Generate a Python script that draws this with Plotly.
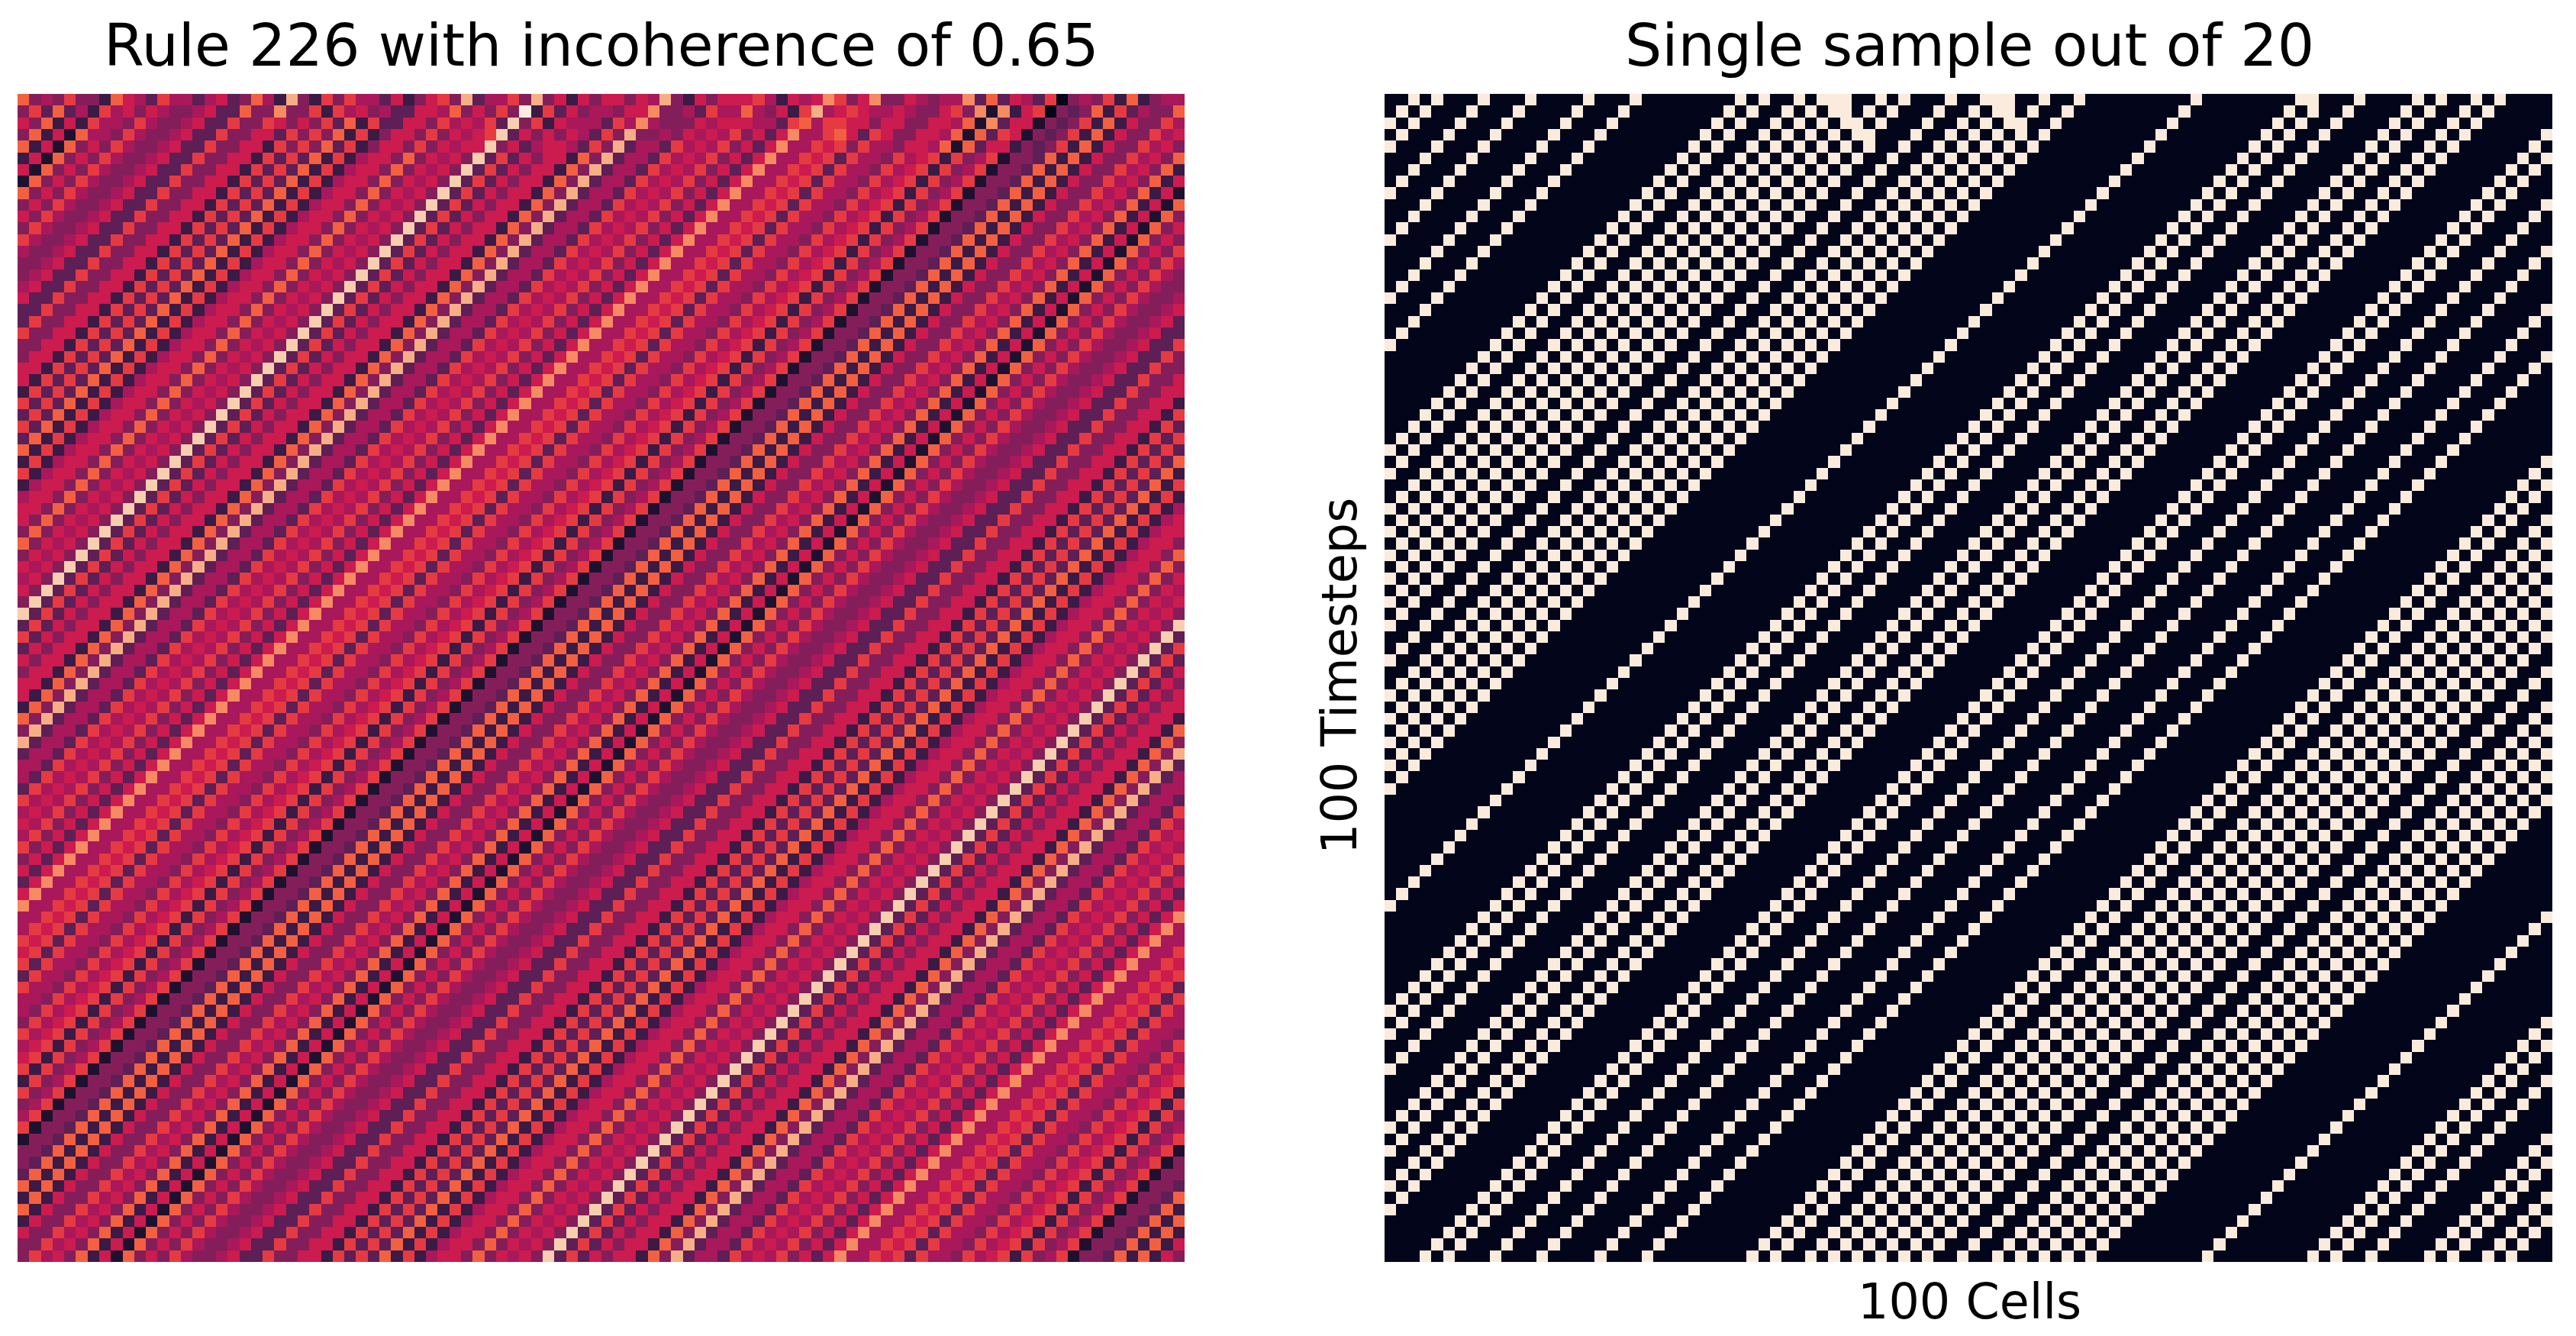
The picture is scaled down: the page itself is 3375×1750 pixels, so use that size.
import plotly.graph_objects as go

LEVEL_KEYS = "n0123456789ab"
LEVEL_COLORS = ["#03051a", "#1e1130", "#3b1a46", "#5d1f55", "#841e5a", "#a8185a", "#cb1b4f",
                "#e63a42", "#f36041", "#f68a62", "#f6ae85", "#f8cfae", "#faebdd"]
SAMPLE_COLORS = ["#03051a", "#faebdd"]

LEFT_TITLE = "Rule 226 with incoherence of 0.65"
RIGHT_TITLE = "Single sample out of 20"
X_LABEL = "100 Cells"
Y_LABEL = "100 Timesteps"

MEAN_ROWS = [
"7343633175 4264424523 7419316364 4251356392 4463935153 5535493153 5556415458 6358335434 482725426n 3436171344",
"3627241645 3543345227 3383361645 3422554735 363b162534 4355833426 4474351694 5654454335 63808156n3 2371624337",
"5371516443 6433452263 3653536271 6225536454 62a3615444 2648433354 5554426746 6553553355 4708255032 3617153364",
"3715074436 4334522633 5526363716 1355363545 6a25353542 6393343545 4635258446 7526533554 7072650323 6171533645",
"7150735364 3345226335 5163637261 3553635455 a352455426 3924426454 6352584465 6364435547 0725513236 1715336453",
"1507353643 3452263355 1626271614 553735453a 2625355173 9244264546 3525844656 2644364561 6346033271 7153364537",
"5073536433 4522633551 6262716145 53735453a2 6253551739 2442645463 5258446562 6443645616 3460332717 1533645371",
"0735364334 5226335516 2627161455 3735453a26 2535517392 4426454635 2584465626 4436456163 4603327171 5336453715",
"7353643345 2263355162 6271614553 735453a262 5355173924 4264546352 5844656264 4364561634 6033271715 3364537150",
"3536433452 2633551626 2716145537 35453a2625 3551739244 2645463525 8446562644 3645616346 0332717153 3645371507",
"5364334522 6335516262 7161455373 5453a26253 5517392442 6454635258 4465626443 6456163460 3327171533 6453715073",
"3643345226 3355162627 1614553735 453a262535 5173924426 4546352584 4656264436 4561634603 3271715336 4537150735",
"6433452263 3551626271 6145537354 53a2625355 1739244264 5463525844 6562644364 5616346033 2717153364 5371507353",
"4334522633 5516262716 1455373545 3a26253551 7392442645 4635258446 5626443645 6163460332 7171533645 3715073536",
"3345226335 5162627161 4553735453 a262535517 3924426454 6352584465 6264436456 1634603327 1715336453 7150735364",
"3452263355 1626271614 553735453a 2625355173 9244264546 3525844656 2644364561 6346033271 7153364537 1507353643",
"4522633551 6262716145 53735453a2 6253551739 2442645463 5258446562 6443645616 3460332717 1533645371 5073536433",
"5226335516 2627161455 3735453a26 2535517392 4426454635 2584465626 4436456163 4603327171 5336453715 0735364334",
"2263355162 6271614553 735453a262 5355173924 4264546352 5844656264 4364561634 6033271715 3364537150 7353643345",
"2633551626 2716145537 35453a2625 3551739244 2645463525 8446562644 3645616346 0332717153 3645371507 3536433452",
"6335516262 7161455373 5453a26253 5517392442 6454635258 4465626443 6456163460 3327171533 6453715073 5364334522",
"3355162627 1614553735 453a262535 5173924426 4546352584 4656264436 4561634603 3271715336 4537150735 3643345226",
"3551626271 6145537354 53a2625355 1739244264 5463525844 6562644364 5616346033 2717153364 5371507353 6433452263",
"5516262716 1455373545 3a26253551 7392442645 4635258446 5626443645 6163460332 7171533645 3715073536 4334522633",
"5162627161 4553735453 a262535517 3924426454 6352584465 6264436456 1634603327 1715336453 7150735364 3345226335",
"1626271614 553735453a 2625355173 9244264546 3525844656 2644364561 6346033271 7153364537 1507353643 3452263355",
"6262716145 53735453a2 6253551739 2442645463 5258446562 6443645616 3460332717 1533645371 5073536433 4522633551",
"2627161455 3735453a26 2535517392 4426454635 2584465626 4436456163 4603327171 5336453715 0735364334 5226335516",
"6271614553 735453a262 5355173924 4264546352 5844656264 4364561634 6033271715 3364537150 7353643345 2263355162",
"2716145537 35453a2625 3551739244 2645463525 8446562644 3645616346 0332717153 3645371507 3536433452 2633551626",
"7161455373 5453a26253 5517392442 6454635258 4465626443 6456163460 3327171533 6453715073 5364334522 6335516262",
"1614553735 453a262535 5173924426 4546352584 4656264436 4561634603 3271715336 4537150735 3643345226 3355162627",
"6145537354 53a2625355 1739244264 5463525844 6562644364 5616346033 2717153364 5371507353 6433452263 3551626271",
"1455373545 3a26253551 7392442645 4635258446 5626443645 6163460332 7171533645 3715073536 4334522633 5516262716",
"4553735453 a262535517 3924426454 6352584465 6264436456 1634603327 1715336453 7150735364 3345226335 5162627161",
"553735453a 2625355173 9244264546 3525844656 2644364561 6346033271 7153364537 1507353643 3452263355 1626271614",
"53735453a2 6253551739 2442645463 5258446562 6443645616 3460332717 1533645371 5073536433 4522633551 6262716145",
"3735453a26 2535517392 4426454635 2584465626 4436456163 4603327171 5336453715 0735364334 5226335516 2627161455",
"735453a262 5355173924 4264546352 5844656264 4364561634 6033271715 3364537150 7353643345 2263355162 6271614553",
"35453a2625 3551739244 2645463525 8446562644 3645616346 0332717153 3645371507 3536433452 2633551626 2716145537",
"5453a26253 5517392442 6454635258 4465626443 6456163460 3327171533 6453715073 5364334522 6335516262 7161455373",
"453a262535 5173924426 4546352584 4656264436 4561634603 3271715336 4537150735 3643345226 3355162627 1614553735",
"53a2625355 1739244264 5463525844 6562644364 5616346033 2717153364 5371507353 6433452263 3551626271 6145537354",
"3a26253551 7392442645 4635258446 5626443645 6163460332 7171533645 3715073536 4334522633 5516262716 1455373545",
"a262535517 3924426454 6352584465 6264436456 1634603327 1715336453 7150735364 3345226335 5162627161 4553735453",
"2625355173 9244264546 3525844656 2644364561 6346033271 7153364537 1507353643 3452263355 1626271614 553735453a",
"6253551739 2442645463 5258446562 6443645616 3460332717 1533645371 5073536433 4522633551 6262716145 53735453a2",
"2535517392 4426454635 2584465626 4436456163 4603327171 5336453715 0735364334 5226335516 2627161455 3735453a26",
"5355173924 4264546352 5844656264 4364561634 6033271715 3364537150 7353643345 2263355162 6271614553 735453a262",
"3551739244 2645463525 8446562644 3645616346 0332717153 3645371507 3536433452 2633551626 2716145537 35453a2625",
"5517392442 6454635258 4465626443 6456163460 3327171533 6453715073 5364334522 6335516262 7161455373 5453a26253",
"5173924426 4546352584 4656264436 4561634603 3271715336 4537150735 3643345226 3355162627 1614553735 453a262535",
"1739244264 5463525844 6562644364 5616346033 2717153364 5371507353 6433452263 3551626271 6145537354 53a2625355",
"7392442645 4635258446 5626443645 6163460332 7171533645 3715073536 4334522633 5516262716 1455373545 3a26253551",
"3924426454 6352584465 6264436456 1634603327 1715336453 7150735364 3345226335 5162627161 4553735453 a262535517",
"9244264546 3525844656 2644364561 6346033271 7153364537 1507353643 3452263355 1626271614 553735453a 2625355173",
"2442645463 5258446562 6443645616 3460332717 1533645371 5073536433 4522633551 6262716145 53735453a2 6253551739",
"4426454635 2584465626 4436456163 4603327171 5336453715 0735364334 5226335516 2627161455 3735453a26 2535517392",
"4264546352 5844656264 4364561634 6033271715 3364537150 7353643345 2263355162 6271614553 735453a262 5355173924",
"2645463525 8446562644 3645616346 0332717153 3645371507 3536433452 2633551626 2716145537 35453a2625 3551739244",
"6454635258 4465626443 6456163460 3327171533 6453715073 5364334522 6335516262 7161455373 5453a26253 5517392442",
"4546352584 4656264436 4561634603 3271715336 4537150735 3643345226 3355162627 1614553735 453a262535 5173924426",
"5463525844 6562644364 5616346033 2717153364 5371507353 6433452263 3551626271 6145537354 53a2625355 1739244264",
"4635258446 5626443645 6163460332 7171533645 3715073536 4334522633 5516262716 1455373545 3a26253551 7392442645",
"6352584465 6264436456 1634603327 1715336453 7150735364 3345226335 5162627161 4553735453 a262535517 3924426454",
"3525844656 2644364561 6346033271 7153364537 1507353643 3452263355 1626271614 553735453a 2625355173 9244264546",
"5258446562 6443645616 3460332717 1533645371 5073536433 4522633551 6262716145 53735453a2 6253551739 2442645463",
"2584465626 4436456163 4603327171 5336453715 0735364334 5226335516 2627161455 3735453a26 2535517392 4426454635",
"5844656264 4364561634 6033271715 3364537150 7353643345 2263355162 6271614553 735453a262 5355173924 4264546352",
"8446562644 3645616346 0332717153 3645371507 3536433452 2633551626 2716145537 35453a2625 3551739244 2645463525",
"4465626443 6456163460 3327171533 6453715073 5364334522 6335516262 7161455373 5453a26253 5517392442 6454635258",
"4656264436 4561634603 3271715336 4537150735 3643345226 3355162627 1614553735 453a262535 5173924426 4546352584",
"6562644364 5616346033 2717153364 5371507353 6433452263 3551626271 6145537354 53a2625355 1739244264 5463525844",
"5626443645 6163460332 7171533645 3715073536 4334522633 5516262716 1455373545 3a26253551 7392442645 4635258446",
"6264436456 1634603327 1715336453 7150735364 3345226335 5162627161 4553735453 a262535517 3924426454 6352584465",
"2644364561 6346033271 7153364537 1507353643 3452263355 1626271614 553735453a 2625355173 9244264546 3525844656",
"6443645616 3460332717 1533645371 5073536433 4522633551 6262716145 53735453a2 6253551739 2442645463 5258446562",
"4436456163 4603327171 5336453715 0735364334 5226335516 2627161455 3735453a26 2535517392 4426454635 2584465626",
"4364561634 6033271715 3364537150 7353643345 2263355162 6271614553 735453a262 5355173924 4264546352 5844656264",
"3645616346 0332717153 3645371507 3536433452 2633551626 2716145537 35453a2625 3551739244 2645463525 8446562644",
"6456163460 3327171533 6453715073 5364334522 6335516262 7161455373 5453a26253 5517392442 6454635258 4465626443",
"4561634603 3271715336 4537150735 3643345226 3355162627 1614553735 453a262535 5173924426 4546352584 4656264436",
"5616346033 2717153364 5371507353 6433452263 3551626271 6145537354 53a2625355 1739244264 5463525844 6562644364",
"6163460332 7171533645 3715073536 4334522633 5516262716 1455373545 3a26253551 7392442645 4635258446 5626443645",
"1634603327 1715336453 7150735364 3345226335 5162627161 4553735453 a262535517 3924426454 6352584465 6264436456",
"6346033271 7153364537 1507353643 3452263355 1626271614 553735453a 2625355173 9244264546 3525844656 2644364561",
"3460332717 1533645371 5073536433 4522633551 6262716145 53735453a2 6253551739 2442645463 5258446562 6443645616",
"4603327171 5336453715 0735364334 5226335516 2627161455 3735453a26 2535517392 4426454635 2584465626 4436456163",
"6033271715 3364537150 7353643345 2263355162 6271614553 735453a262 5355173924 4264546352 5844656264 4364561634",
"0332717153 3645371507 3536433452 2633551626 2716145537 35453a2625 3551739244 2645463525 8446562644 3645616346",
"3327171533 6453715073 5364334522 6335516262 7161455373 5453a26253 5517392442 6454635258 4465626443 6456163460",
"3271715336 4537150735 3643345226 3355162627 1614553735 453a262535 5173924426 4546352584 4656264436 4561634603",
"2717153364 5371507353 6433452263 3551626271 6145537354 53a2625355 1739244264 5463525844 6562644364 5616346033",
"7171533645 3715073536 4334522633 5516262716 1455373545 3a26253551 7392442645 4635258446 5626443645 6163460332",
"1715336453 7150735364 3345226335 5162627161 4553735453 a262535517 3924426454 6352584465 6264436456 1634603327",
"7153364537 1507353643 3452263355 1626271614 553735453a 2625355173 9244264546 3525844656 2644364561 6346033271",
"1533645371 5073536433 4522633551 6262716145 53735453a2 6253551739 2442645463 5258446562 6443645616 3460332717",
"5336453715 0735364334 5226335516 2627161455 3735453a26 2535517392 4426454635 2584465626 4436456163 4603327171",
"3364537150 7353643345 2263355162 6271614553 735453a262 5355173924 4264546352 5844656264 4364561634 6033271715",
"3645371507 3536433452 2633551626 2716145537 35453a2625 3551739244 2645463525 8446562644 3645616346 0332717153",
]

SAMPLE_ON = [
[2,4,8,12,17,21,30,32,35,37,38,39,42,44,48,51,52,53,56,59,69,78,79,83,88,90,93,95],
[1,3,7,11,16,20,29,31,34,36,38,39,41,43,47,50,52,53,55,58,68,77,79,82,87,89,92,94],
[0,2,6,10,15,19,28,30,33,35,37,39,40,42,46,49,51,53,54,57,67,76,78,81,86,88,91,93],
[1,5,9,14,18,27,29,32,34,36,38,40,41,45,48,50,52,54,56,66,75,77,80,85,87,90,92,99],
[0,4,8,13,17,26,28,31,33,35,37,39,41,44,47,49,51,53,55,65,74,76,79,84,86,89,91,98],
[3,7,12,16,25,27,30,32,34,36,38,40,43,46,48,50,52,54,64,73,75,78,83,85,88,90,97,99],
[2,6,11,15,24,26,29,31,33,35,37,39,42,45,47,49,51,53,63,72,74,77,82,84,87,89,96,98],
[1,5,10,14,23,25,28,30,32,34,36,38,41,44,46,48,50,52,62,71,73,76,81,83,86,88,95,97],
[0,4,9,13,22,24,27,29,31,33,35,37,40,43,45,47,49,51,61,70,72,75,80,82,85,87,94,96],
[99,3,8,12,21,23,26,28,30,32,34,36,39,42,44,46,48,50,60,69,71,74,79,81,84,86,93,95],
[98,2,7,11,20,22,25,27,29,31,33,35,38,41,43,45,47,49,59,68,70,73,78,80,83,85,92,94],
[97,1,6,10,19,21,24,26,28,30,32,34,37,40,42,44,46,48,58,67,69,72,77,79,82,84,91,93],
[96,0,5,9,18,20,23,25,27,29,31,33,36,39,41,43,45,47,57,66,68,71,76,78,81,83,90,92],
[95,99,4,8,17,19,22,24,26,28,30,32,35,38,40,42,44,46,56,65,67,70,75,77,80,82,89,91],
[94,98,3,7,16,18,21,23,25,27,29,31,34,37,39,41,43,45,55,64,66,69,74,76,79,81,88,90],
[93,97,2,6,15,17,20,22,24,26,28,30,33,36,38,40,42,44,54,63,65,68,73,75,78,80,87,89],
[92,96,1,5,14,16,19,21,23,25,27,29,32,35,37,39,41,43,53,62,64,67,72,74,77,79,86,88],
[91,95,0,4,13,15,18,20,22,24,26,28,31,34,36,38,40,42,52,61,63,66,71,73,76,78,85,87],
[90,94,99,3,12,14,17,19,21,23,25,27,30,33,35,37,39,41,51,60,62,65,70,72,75,77,84,86],
[89,93,98,2,11,13,16,18,20,22,24,26,29,32,34,36,38,40,50,59,61,64,69,71,74,76,83,85],
[88,92,97,1,10,12,15,17,19,21,23,25,28,31,33,35,37,39,49,58,60,63,68,70,73,75,82,84],
[87,91,96,0,9,11,14,16,18,20,22,24,27,30,32,34,36,38,48,57,59,62,67,69,72,74,81,83],
[86,90,95,99,8,10,13,15,17,19,21,23,26,29,31,33,35,37,47,56,58,61,66,68,71,73,80,82],
[85,89,94,98,7,9,12,14,16,18,20,22,25,28,30,32,34,36,46,55,57,60,65,67,70,72,79,81],
[84,88,93,97,6,8,11,13,15,17,19,21,24,27,29,31,33,35,45,54,56,59,64,66,69,71,78,80],
[83,87,92,96,5,7,10,12,14,16,18,20,23,26,28,30,32,34,44,53,55,58,63,65,68,70,77,79],
[82,86,91,95,4,6,9,11,13,15,17,19,22,25,27,29,31,33,43,52,54,57,62,64,67,69,76,78],
[81,85,90,94,3,5,8,10,12,14,16,18,21,24,26,28,30,32,42,51,53,56,61,63,66,68,75,77],
[80,84,89,93,2,4,7,9,11,13,15,17,20,23,25,27,29,31,41,50,52,55,60,62,65,67,74,76],
[79,83,88,92,1,3,6,8,10,12,14,16,19,22,24,26,28,30,40,49,51,54,59,61,64,66,73,75],
[78,82,87,91,0,2,5,7,9,11,13,15,18,21,23,25,27,29,39,48,50,53,58,60,63,65,72,74],
[77,81,86,90,99,1,4,6,8,10,12,14,17,20,22,24,26,28,38,47,49,52,57,59,62,64,71,73],
[76,80,85,89,98,0,3,5,7,9,11,13,16,19,21,23,25,27,37,46,48,51,56,58,61,63,70,72],
[75,79,84,88,97,99,2,4,6,8,10,12,15,18,20,22,24,26,36,45,47,50,55,57,60,62,69,71],
[74,78,83,87,96,98,1,3,5,7,9,11,14,17,19,21,23,25,35,44,46,49,54,56,59,61,68,70],
[73,77,82,86,95,97,0,2,4,6,8,10,13,16,18,20,22,24,34,43,45,48,53,55,58,60,67,69],
[72,76,81,85,94,96,99,1,3,5,7,9,12,15,17,19,21,23,33,42,44,47,52,54,57,59,66,68],
[71,75,80,84,93,95,98,0,2,4,6,8,11,14,16,18,20,22,32,41,43,46,51,53,56,58,65,67],
[70,74,79,83,92,94,97,99,1,3,5,7,10,13,15,17,19,21,31,40,42,45,50,52,55,57,64,66],
[69,73,78,82,91,93,96,98,0,2,4,6,9,12,14,16,18,20,30,39,41,44,49,51,54,56,63,65],
[68,72,77,81,90,92,95,97,99,1,3,5,8,11,13,15,17,19,29,38,40,43,48,50,53,55,62,64],
[67,71,76,80,89,91,94,96,98,0,2,4,7,10,12,14,16,18,28,37,39,42,47,49,52,54,61,63],
[66,70,75,79,88,90,93,95,97,99,1,3,6,9,11,13,15,17,27,36,38,41,46,48,51,53,60,62],
[65,69,74,78,87,89,92,94,96,98,0,2,5,8,10,12,14,16,26,35,37,40,45,47,50,52,59,61],
[64,68,73,77,86,88,91,93,95,97,99,1,4,7,9,11,13,15,25,34,36,39,44,46,49,51,58,60],
[63,67,72,76,85,87,90,92,94,96,98,0,3,6,8,10,12,14,24,33,35,38,43,45,48,50,57,59],
[62,66,71,75,84,86,89,91,93,95,97,99,2,5,7,9,11,13,23,32,34,37,42,44,47,49,56,58],
[61,65,70,74,83,85,88,90,92,94,96,98,1,4,6,8,10,12,22,31,33,36,41,43,46,48,55,57],
[60,64,69,73,82,84,87,89,91,93,95,97,0,3,5,7,9,11,21,30,32,35,40,42,45,47,54,56],
[59,63,68,72,81,83,86,88,90,92,94,96,99,2,4,6,8,10,20,29,31,34,39,41,44,46,53,55],
[58,62,67,71,80,82,85,87,89,91,93,95,98,1,3,5,7,9,19,28,30,33,38,40,43,45,52,54],
[57,61,66,70,79,81,84,86,88,90,92,94,97,0,2,4,6,8,18,27,29,32,37,39,42,44,51,53],
[56,60,65,69,78,80,83,85,87,89,91,93,96,99,1,3,5,7,17,26,28,31,36,38,41,43,50,52],
[55,59,64,68,77,79,82,84,86,88,90,92,95,98,0,2,4,6,16,25,27,30,35,37,40,42,49,51],
[54,58,63,67,76,78,81,83,85,87,89,91,94,97,99,1,3,5,15,24,26,29,34,36,39,41,48,50],
[53,57,62,66,75,77,80,82,84,86,88,90,93,96,98,0,2,4,14,23,25,28,33,35,38,40,47,49],
[52,56,61,65,74,76,79,81,83,85,87,89,92,95,97,99,1,3,13,22,24,27,32,34,37,39,46,48],
[51,55,60,64,73,75,78,80,82,84,86,88,91,94,96,98,0,2,12,21,23,26,31,33,36,38,45,47],
[50,54,59,63,72,74,77,79,81,83,85,87,90,93,95,97,99,1,11,20,22,25,30,32,35,37,44,46],
[49,53,58,62,71,73,76,78,80,82,84,86,89,92,94,96,98,0,10,19,21,24,29,31,34,36,43,45],
[48,52,57,61,70,72,75,77,79,81,83,85,88,91,93,95,97,99,9,18,20,23,28,30,33,35,42,44],
[47,51,56,60,69,71,74,76,78,80,82,84,87,90,92,94,96,98,8,17,19,22,27,29,32,34,41,43],
[46,50,55,59,68,70,73,75,77,79,81,83,86,89,91,93,95,97,7,16,18,21,26,28,31,33,40,42],
[45,49,54,58,67,69,72,74,76,78,80,82,85,88,90,92,94,96,6,15,17,20,25,27,30,32,39,41],
[44,48,53,57,66,68,71,73,75,77,79,81,84,87,89,91,93,95,5,14,16,19,24,26,29,31,38,40],
[43,47,52,56,65,67,70,72,74,76,78,80,83,86,88,90,92,94,4,13,15,18,23,25,28,30,37,39],
[42,46,51,55,64,66,69,71,73,75,77,79,82,85,87,89,91,93,3,12,14,17,22,24,27,29,36,38],
[41,45,50,54,63,65,68,70,72,74,76,78,81,84,86,88,90,92,2,11,13,16,21,23,26,28,35,37],
[40,44,49,53,62,64,67,69,71,73,75,77,80,83,85,87,89,91,1,10,12,15,20,22,25,27,34,36],
[39,43,48,52,61,63,66,68,70,72,74,76,79,82,84,86,88,90,0,9,11,14,19,21,24,26,33,35],
[38,42,47,51,60,62,65,67,69,71,73,75,78,81,83,85,87,89,99,8,10,13,18,20,23,25,32,34],
[37,41,46,50,59,61,64,66,68,70,72,74,77,80,82,84,86,88,98,7,9,12,17,19,22,24,31,33],
[36,40,45,49,58,60,63,65,67,69,71,73,76,79,81,83,85,87,97,6,8,11,16,18,21,23,30,32],
[35,39,44,48,57,59,62,64,66,68,70,72,75,78,80,82,84,86,96,5,7,10,15,17,20,22,29,31],
[34,38,43,47,56,58,61,63,65,67,69,71,74,77,79,81,83,85,95,4,6,9,14,16,19,21,28,30],
[33,37,42,46,55,57,60,62,64,66,68,70,73,76,78,80,82,84,94,3,5,8,13,15,18,20,27,29],
[32,36,41,45,54,56,59,61,63,65,67,69,72,75,77,79,81,83,93,2,4,7,12,14,17,19,26,28],
[31,35,40,44,53,55,58,60,62,64,66,68,71,74,76,78,80,82,92,1,3,6,11,13,16,18,25,27],
[30,34,39,43,52,54,57,59,61,63,65,67,70,73,75,77,79,81,91,0,2,5,10,12,15,17,24,26],
[29,33,38,42,51,53,56,58,60,62,64,66,69,72,74,76,78,80,90,99,1,4,9,11,14,16,23,25],
[28,32,37,41,50,52,55,57,59,61,63,65,68,71,73,75,77,79,89,98,0,3,8,10,13,15,22,24],
[27,31,36,40,49,51,54,56,58,60,62,64,67,70,72,74,76,78,88,97,99,2,7,9,12,14,21,23],
[26,30,35,39,48,50,53,55,57,59,61,63,66,69,71,73,75,77,87,96,98,1,6,8,11,13,20,22],
[25,29,34,38,47,49,52,54,56,58,60,62,65,68,70,72,74,76,86,95,97,0,5,7,10,12,19,21],
[24,28,33,37,46,48,51,53,55,57,59,61,64,67,69,71,73,75,85,94,96,99,4,6,9,11,18,20],
[23,27,32,36,45,47,50,52,54,56,58,60,63,66,68,70,72,74,84,93,95,98,3,5,8,10,17,19],
[22,26,31,35,44,46,49,51,53,55,57,59,62,65,67,69,71,73,83,92,94,97,2,4,7,9,16,18],
[21,25,30,34,43,45,48,50,52,54,56,58,61,64,66,68,70,72,82,91,93,96,1,3,6,8,15,17],
[20,24,29,33,42,44,47,49,51,53,55,57,60,63,65,67,69,71,81,90,92,95,0,2,5,7,14,16],
[19,23,28,32,41,43,46,48,50,52,54,56,59,62,64,66,68,70,80,89,91,94,99,1,4,6,13,15],
[18,22,27,31,40,42,45,47,49,51,53,55,58,61,63,65,67,69,79,88,90,93,98,0,3,5,12,14],
[17,21,26,30,39,41,44,46,48,50,52,54,57,60,62,64,66,68,78,87,89,92,97,99,2,4,11,13],
[16,20,25,29,38,40,43,45,47,49,51,53,56,59,61,63,65,67,77,86,88,91,96,98,1,3,10,12],
[15,19,24,28,37,39,42,44,46,48,50,52,55,58,60,62,64,66,76,85,87,90,95,97,0,2,9,11],
[14,18,23,27,36,38,41,43,45,47,49,51,54,57,59,61,63,65,75,84,86,89,94,96,99,1,8,10],
[13,17,22,26,35,37,40,42,44,46,48,50,53,56,58,60,62,64,74,83,85,88,93,95,98,0,7,9],
[12,16,21,25,34,36,39,41,43,45,47,49,52,55,57,59,61,63,73,82,84,87,92,94,97,99,6,8],
[11,15,20,24,33,35,38,40,42,44,46,48,51,54,56,58,60,62,72,81,83,86,91,93,96,98,5,7],
[10,14,19,23,32,34,37,39,41,43,45,47,50,53,55,57,59,61,71,80,82,85,90,92,95,97,4,6],
[9,13,18,22,31,33,36,38,40,42,44,46,49,52,54,56,58,60,70,79,81,84,89,91,94,96,3,5],
]

mean_z = [[LEVEL_KEYS.index(ch) for ch in row.replace(" ", "")] for row in MEAN_ROWS]
sample_z = [[1 if c in on else 0 for c in range(100)] for on in SAMPLE_ON]

n = len(LEVEL_COLORS) - 1
mean_scale = [[i / n, col] for i, col in enumerate(LEVEL_COLORS)]
sample_scale = [[0, SAMPLE_COLORS[0]], [1, SAMPLE_COLORS[1]]]

W, H = 3375, 1750
fig = go.Figure()
fig.add_trace(go.Heatmap(z=mean_z, colorscale=mean_scale, zmin=0, zmax=n, showscale=False,
                         hoverinfo="skip", xaxis="x", yaxis="y"))
fig.add_trace(go.Heatmap(z=sample_z, colorscale=sample_scale, zmin=0, zmax=1, showscale=False,
                         hoverinfo="skip", xaxis="x2", yaxis="y2"))

y_dom = [1 - 1653 / H, 1 - 123 / H]
hidden = dict(visible=False, showgrid=False, zeroline=False)
fig.update_layout(
    width=W, height=H, autosize=False, paper_bgcolor="white", plot_bgcolor="white",
    margin=dict(l=0, r=0, t=0, b=0), showlegend=False,
    font=dict(family="DejaVu Sans", color="black"),
    xaxis=dict(domain=[23 / W, 1552 / W], range=[-0.5, 99.5], **hidden),
    yaxis=dict(domain=y_dom, range=[99.5, -0.5], **hidden),
    xaxis2=dict(domain=[1814 / W, 3344 / W], range=[-0.5, 99.5], anchor="y2", **hidden),
    yaxis2=dict(domain=y_dom, range=[99.5, -0.5], anchor="x2", **hidden),
    annotations=[
        dict(text=LEFT_TITLE, xref="paper", yref="paper", x=787.5 / W, y=1 - 60 / H, showarrow=False,
             xanchor="center", yanchor="middle", font=dict(size=76.2)),
        dict(text=RIGHT_TITLE, xref="paper", yref="paper", x=2580 / W, y=1 - 60 / H, showarrow=False,
             xanchor="center", yanchor="middle", font=dict(size=76.2)),
        dict(text=X_LABEL, xref="paper", yref="paper", x=2580 / W, y=1 - 1705 / H, showarrow=False,
             xanchor="center", yanchor="middle", font=dict(size=63.5)),
        dict(text=Y_LABEL, xref="paper", yref="paper", x=1755 / W, y=1 - 886 / H, showarrow=False,
             xanchor="center", yanchor="middle", textangle=-90, font=dict(size=63.5)),
    ],
)
fig.write_html("out.html", config={"displayModeBar": False},
               post_script="document.body.style.margin='0';document.documentElement.style.margin='0';")
